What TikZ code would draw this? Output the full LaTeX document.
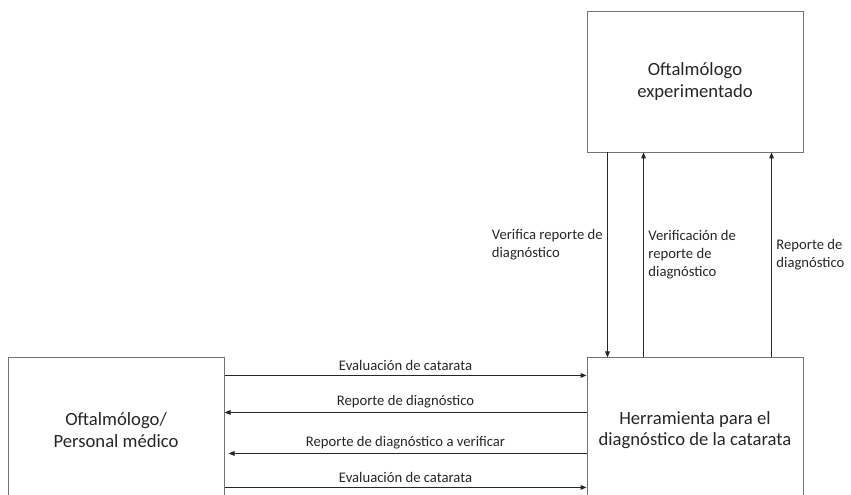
\documentclass[tikz,border=0pt]{standalone}
\usepackage{fontspec}
\setmainfont{Carlito}
\usetikzlibrary{positioning, arrows.meta}
\tikzstyle{entity} = [rectangle, minimum width=162pt, minimum height=108pt, text centered, align=center, draw=black!55, line width=0.7pt, text=black!85, font=\fontsize{14}{16}\selectfont]
\tikzstyle{arrow} = [line width=0.7pt, draw=black!85, -{Triangle[length=4.5pt,width=3.5pt]}]
\tikzstyle{flowlabel} = [text=black!85, font=\fontsize{11}{13.5}\selectfont]

\begin{document}
\begin{tikzpicture}[node distance=153.75pt]
\useasboundingbox (0,0) rectangle (638.25pt,-371.25pt);

\node (expert) [entity, minimum height=105.75pt] at (521.25pt,-61.125pt) {Oftalmólogo\\experimentado};
\node (tool) [entity, below=of expert] {Herramienta para el\\diagnóstico de la catarata};
\node (med) [entity, left=271.5pt of tool] {Oftalmólogo/\\Personal médico};

% between the medical staff and the tool
\draw [arrow] ([yshift=-13.5pt]med.north east) -- node[flowlabel, above] {Evaluación de catarata} ([yshift=-13.5pt]tool.north west);
\draw [arrow] ([yshift=-41.25pt]tool.north west) -- node[flowlabel, above] {Reporte de diagnóstico} ([yshift=-41.25pt]med.north east);
\draw [arrow, shorten >=3pt] ([yshift=-72pt]tool.north west) -- node[flowlabel, above] {Reporte de diagnóstico a verificar} ([yshift=-72pt]med.north east);
\draw [arrow] ([yshift=-97.5pt]med.north east) -- node[flowlabel, above] {Evaluación de catarata} ([yshift=-97.5pt]tool.north west);

% between the tool and the expert
\draw [arrow] ([xshift=15.75pt]expert.south west) -- node[flowlabel, left, align=left, pos=0.45] {Verifica reporte de\\diagnóstico} ([xshift=15.75pt]tool.north west);
\draw [arrow] ([xshift=42.75pt]tool.north west) -- node[flowlabel, right, align=left] {Verificación de\\reporte de\\diagnóstico} ([xshift=42.75pt]expert.south west);
\draw [arrow] ([xshift=138.75pt]tool.north west) -- node[flowlabel, right, align=left] {Reporte de\\diagnóstico} ([xshift=138.75pt]expert.south west);

\end{tikzpicture}
\end{document}
